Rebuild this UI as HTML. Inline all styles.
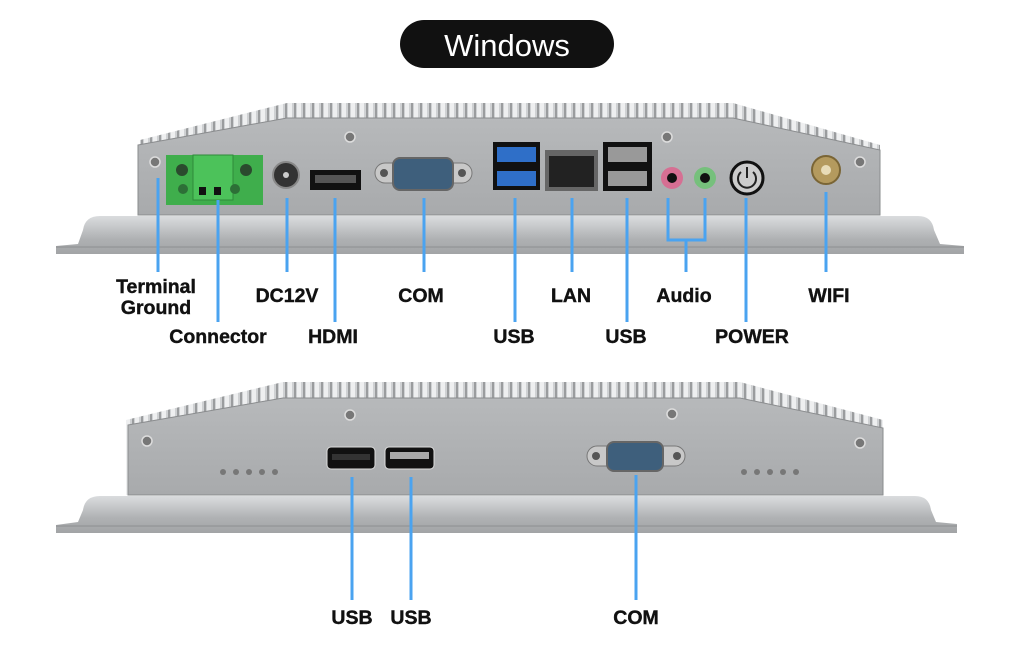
<!DOCTYPE html>
<html><head><meta charset="utf-8"><style>
html,body{margin:0;padding:0;background:#fff;}
svg{display:block}
text{font-family:"Liberation Sans",sans-serif;font-weight:bold;fill:#111;text-anchor:middle;font-size:19.5px;stroke:#111;stroke-width:0.4}
</style></head><body>
<svg width="1034" height="646" viewBox="0 0 1034 646" xmlns="http://www.w3.org/2000/svg">
<defs>
<linearGradient id="bez" x1="0" y1="0" x2="0" y2="1">
<stop offset="0" stop-color="#dadcde"/><stop offset="0.25" stop-color="#c9cbcd"/><stop offset="0.6" stop-color="#afb1b3"/><stop offset="1" stop-color="#a2a4a6"/></linearGradient>
<linearGradient id="plate" x1="0" y1="0" x2="0" y2="1">
<stop offset="0" stop-color="#b7b9bb"/><stop offset="1" stop-color="#a8aaac"/></linearGradient>
<pattern id="fins" width="9" height="60" patternUnits="userSpaceOnUse">
<rect width="9" height="60" fill="#cfd1d3"/><rect x="0" width="4" height="60" fill="#eeeff0"/><rect x="6" width="2" height="60" fill="#9a9c9e"/></pattern>
</defs>

<rect x="400" y="20" width="214" height="48" rx="24" fill="#111"/>
<text x="507" y="56" style="fill:#fff;stroke:none;font-weight:normal;font-size:31px">Windows</text>

<!-- TOP DEVICE -->
<polygon points="140,140 287,103 733,103 880,145 880,215 140,215" fill="url(#fins)"/>
<path d="M138,145 L287,118 L733,118 L880,150 L880,215 L138,215 Z" fill="url(#plate)" stroke="#8a8c8e" stroke-width="1"/>
<path d="M83,230 Q85,216 100,216 L918,216 Q932,216 934,230 L940,244 L964,246 L964,254 L56,254 L56,246 L78,244 Z" fill="url(#bez)"/>
<line x1="56" y1="247" x2="964" y2="247" stroke="#8d8f91" stroke-width="1"/>
<g fill="#777" stroke="#ddd" stroke-width="1.5">
<circle cx="155" cy="162" r="5"/><circle cx="350" cy="137" r="5"/><circle cx="667" cy="137" r="5"/><circle cx="860" cy="162" r="5"/></g>
<rect x="166" y="155" width="97" height="50" fill="#3fae4c"/>
<rect x="193" y="155" width="40" height="45" fill="#4cc25a" stroke="#2f8a3a"/>
<circle cx="182" cy="170" r="6" fill="#2b4a2e"/><circle cx="246" cy="170" r="6" fill="#2b4a2e"/>
<rect x="199" y="187" width="7" height="8" fill="#111"/><rect x="214" y="187" width="7" height="8" fill="#111"/>
<circle cx="183" cy="189" r="5" fill="#2d6f37"/><circle cx="235" cy="189" r="5" fill="#2d6f37"/>
<circle cx="286" cy="175" r="13" fill="#333" stroke="#888" stroke-width="2"/><circle cx="286" cy="175" r="3" fill="#ccc"/>
<rect x="310" y="170" width="51" height="20" fill="#111"/><rect x="315" y="175" width="41" height="8" fill="#555"/>
<rect x="375" y="163" width="97" height="20" rx="10" fill="#c8c8c8" stroke="#777"/>
<rect x="393" y="158" width="60" height="32" rx="7" fill="#3e5f7c" stroke="#666" stroke-width="2"/>
<circle cx="384" cy="173" r="4" fill="#555"/><circle cx="462" cy="173" r="4" fill="#555"/>
<rect x="493" y="142" width="47" height="48" fill="#111"/>
<rect x="497" y="147" width="39" height="15" fill="#2f6fc8"/><rect x="497" y="171" width="39" height="15" fill="#2f6fc8"/>
<rect x="545" y="150" width="53" height="41" fill="#666"/><rect x="549" y="156" width="45" height="31" fill="#222"/>
<rect x="603" y="142" width="49" height="49" fill="#111"/>
<rect x="608" y="147" width="39" height="15" fill="#999"/><rect x="608" y="171" width="39" height="15" fill="#999"/>
<circle cx="672" cy="178" r="11" fill="#d66f93"/><circle cx="672" cy="178" r="5" fill="#111"/>
<circle cx="705" cy="178" r="11" fill="#76c07c"/><circle cx="705" cy="178" r="5" fill="#111"/>
<circle cx="747" cy="178" r="16" fill="#ccc" stroke="#111" stroke-width="3"/>
<path d="M741,172 A9,9 0 1 0 753,172" fill="none" stroke="#222" stroke-width="2"/><line x1="747" y1="167" x2="747" y2="178" stroke="#222" stroke-width="2"/>
<circle cx="826" cy="170" r="14" fill="#b49a5e" stroke="#7a6535" stroke-width="2"/><circle cx="826" cy="170" r="5" fill="#e8dcb8"/>

<g stroke="#4aa3f0" stroke-width="3" fill="none">
<line x1="158" y1="178" x2="158" y2="272"/><line x1="218" y1="200" x2="218" y2="322"/>
<line x1="287" y1="198" x2="287" y2="272"/><line x1="335" y1="198" x2="335" y2="322"/>
<line x1="424" y1="198" x2="424" y2="272"/><line x1="515" y1="198" x2="515" y2="322"/>
<line x1="572" y1="198" x2="572" y2="272"/><line x1="627" y1="198" x2="627" y2="322"/>
<polyline points="668,198 668,240 705,240 705,198"/><line x1="686" y1="240" x2="686" y2="272"/>
<line x1="746" y1="198" x2="746" y2="322"/><line x1="826" y1="192" x2="826" y2="272"/>
</g>
<text x="156" y="293">Terminal</text><text x="156" y="314">Ground</text>
<text x="287" y="302">DC12V</text><text x="421" y="302">COM</text><text x="571" y="302">LAN</text>
<text x="684" y="302">Audio</text><text x="829" y="302">WIFI</text>
<text x="218" y="343">Connector</text><text x="333" y="343">HDMI</text><text x="514" y="343">USB</text>
<text x="626" y="343">USB</text><text x="752" y="343">POWER</text>

<!-- BOTTOM DEVICE -->
<polygon points="126,420 283,382 740,382 883,420 883,495 126,495" fill="url(#fins)"/>
<path d="M128,425 L283,398 L740,398 L883,428 L883,495 L128,495 Z" fill="url(#plate)" stroke="#8a8c8e" stroke-width="1"/>
<path d="M83,510 Q85,496 100,496 L915,496 Q929,496 931,510 L936,522 L957,524 L957,533 L56,533 L56,525 L78,522 Z" fill="url(#bez)"/>
<line x1="56" y1="526" x2="957" y2="526" stroke="#8d8f91" stroke-width="1"/>
<g fill="#777" stroke="#ddd" stroke-width="1.5">
<circle cx="147" cy="441" r="5"/><circle cx="350" cy="415" r="5"/><circle cx="672" cy="414" r="5"/><circle cx="860" cy="443" r="5"/></g>
<g fill="#777"><circle cx="223" cy="472" r="3"/><circle cx="236" cy="472" r="3"/><circle cx="249" cy="472" r="3"/><circle cx="262" cy="472" r="3"/><circle cx="275" cy="472" r="3"/>
<circle cx="744" cy="472" r="3"/><circle cx="757" cy="472" r="3"/><circle cx="770" cy="472" r="3"/><circle cx="783" cy="472" r="3"/><circle cx="796" cy="472" r="3"/></g>
<rect x="327" y="447" width="48" height="22" rx="4" fill="#111" stroke="#ddd"/><rect x="332" y="454" width="38" height="6" fill="#333"/>
<rect x="385" y="447" width="49" height="22" rx="4" fill="#111" stroke="#ddd"/><rect x="390" y="452" width="39" height="7" fill="#aaa"/>
<rect x="587" y="446" width="98" height="20" rx="10" fill="#c8c8c8" stroke="#777"/>
<rect x="607" y="442" width="56" height="29" rx="7" fill="#3e5f7c" stroke="#666" stroke-width="2"/>
<circle cx="596" cy="456" r="4" fill="#555"/><circle cx="677" cy="456" r="4" fill="#555"/>
<g stroke="#4aa3f0" stroke-width="3">
<line x1="352" y1="477" x2="352" y2="600"/><line x1="411" y1="477" x2="411" y2="600"/><line x1="636" y1="475" x2="636" y2="600"/></g>
<text x="352" y="624">USB</text><text x="411" y="624">USB</text><text x="636" y="624">COM</text>
</svg>
</body></html>
